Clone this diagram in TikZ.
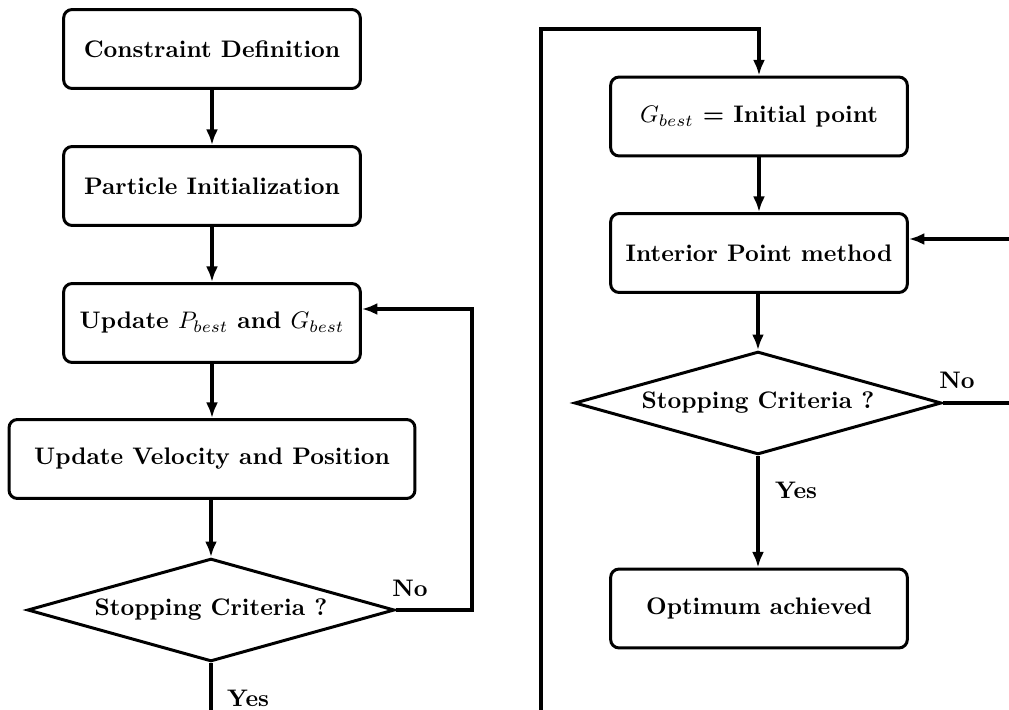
\documentclass[tikz,border=0pt]{standalone}
\usetikzlibrary{shapes.geometric,arrows.meta,calc}
\begin{document}
\begin{tikzpicture}[x=0.418pt,y=-0.418pt,
  font=\bfseries,
  box/.style={draw,line width=1.25pt,rounded corners=3.5pt,minimum width=124pt,minimum height=33pt,align=center},
  widebox/.style={box,minimum width=169.7pt},
  decision/.style={draw,line width=1.25pt,diamond,aspect=3.5,inner sep=0pt,minimum width=153.4pt,minimum height=43pt},
  conn/.style={line width=1.65pt,-{Latex[length=6.5pt,width=5pt]}},
  plain/.style={line width=1.65pt},
  lbl/.style={inner sep=0pt}]
\clip (0,0) rectangle (1009,710);
% left column
\node[box] (cd) at (212,49) {Constraint Definition};
\node[box] (pi) at (212,186) {Particle Initialization};
\node[box] (upd) at (212,323) {Update $P_{best}$ and $G_{best}$};
\node[widebox] (vel) at (212,459) {Update Velocity and Position};
\node[decision] (d1) at (211,610) {Stopping Criteria ?};
\coordinate (fb1) at (472,309);
\coordinate (e1) at (211,730);
\draw[conn] (cd) -- (pi);
\draw[conn] (pi) -- (upd);
\draw[conn] (upd) -- (vel);
\draw[conn] (vel.south -| d1.north) -- (d1.north);
\draw[conn] (d1.east) -| (fb1) -- ([yshift=5.85pt]upd.east);
\draw[plain] (d1.south) -- (e1);
\node[lbl] (no1) at (410,588) {No};
\node[lbl] (yes1) at (248,698) {Yes};
% right column
\coordinate (b1) at (541,730);
\coordinate (tl) at (541,29);
\node[box] (gb) at (759,116.5) {$G_{best}$ = Initial point};
\node[box] (ip) at (759,253) {Interior Point method};
\node[decision] (d2) at (758,403) {Stopping Criteria ?};
\node[box] (opt) at (759,608.5) {Optimum achieved};
\coordinate (r1) at (1020,239);
\coordinate (r2) at (1020,403);
\draw[conn] (b1) -- (tl) -| (gb.north);
\draw[conn] (gb) -- (ip);
\draw[conn] (ip.south -| d2.north) -- (d2.north);
\draw[conn] (d2.south) -- (d2.south |- opt.north);
\draw[plain] (d2.east) -- (r2);
\draw[conn] (r1) -- ([yshift=5.85pt]ip.east);
\node[lbl] (no2) at (957,380) {No};
\node[lbl] (yes2) at (796,490) {Yes};
\end{tikzpicture}
\end{document}
